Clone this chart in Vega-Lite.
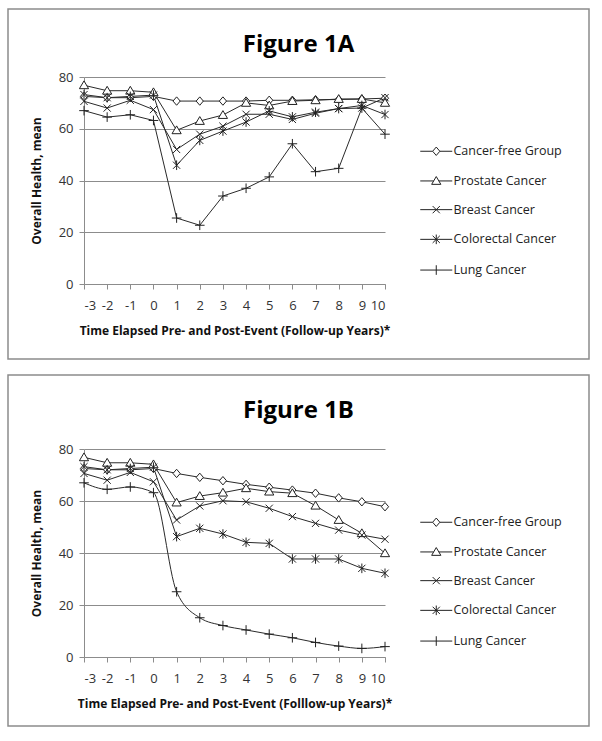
{
  "$schema": "https://vega.github.io/schema/vega-lite/v6.json",
  "padding": {"left": 7, "top": 8, "right": 0, "bottom": 0},
  "spacing": 14,
  "resolve": {"scale": {"shape": "independent"}, "legend": {"shape": "independent"}},
  "config": {
    "font": "Open Sans",
    "view": {"stroke": "#8c8c8c", "strokeWidth": 1.5},
    "axis": {
      "labelFont": "Open Sans", "labelFontSize": 13, "labelColor": "#333",
      "titleFont": "Open Sans", "titleFontSize": 12, "titleFontWeight": "bold", "titleColor": "#111",
      "domainColor": "#8c8c8c", "tickColor": "#8c8c8c", "gridColor": "#8c8c8c", "gridOpacity": 1,
      "tickSize": 5, "labelPadding": 6, "titlePadding": 10
    },
    "axisX": {"grid": false, "labelAngle": 0, "labelPadding": 10, "titlePadding": 13, "labelExpr": "datum.value + ''"},
    "axisY": {"grid": true, "titlePadding": 15},
    "legend": {
      "orient": "none", "labelFont": "Open Sans", "labelFontSize": 12.5, "labelColor": "#222",
      "symbolSize": 64, "symbolStrokeWidth": 1, "symbolStrokeColor": "#222", "symbolOpacity": 1,
      "rowPadding": 15.7, "labelOffset": 11, "title": null
    },
    "title": {"font": "Open Sans", "fontSize": 24, "fontWeight": "bold", "color": "#000", "anchor": "middle", "frame": "group"}
  },
  "datasets": {
    "a": [
      {"series": "Cancer-free Group", "year": -3, "value": 72.5},
      {"series": "Cancer-free Group", "year": -2, "value": 72},
      {"series": "Cancer-free Group", "year": -1, "value": 72},
      {"series": "Cancer-free Group", "year": 0, "value": 72.5},
      {"series": "Cancer-free Group", "year": 1, "value": 70.7},
      {"series": "Cancer-free Group", "year": 2, "value": 70.7},
      {"series": "Cancer-free Group", "year": 3, "value": 70.7},
      {"series": "Cancer-free Group", "year": 4, "value": 70.7},
      {"series": "Cancer-free Group", "year": 5, "value": 71},
      {"series": "Cancer-free Group", "year": 6, "value": 71},
      {"series": "Cancer-free Group", "year": 7, "value": 71.2},
      {"series": "Cancer-free Group", "year": 8, "value": 71.3},
      {"series": "Cancer-free Group", "year": 9, "value": 71.5},
      {"series": "Cancer-free Group", "year": 10, "value": 71.8},
      {"series": "Prostate Cancer", "year": -3, "value": 76.8},
      {"series": "Prostate Cancer", "year": -2, "value": 74.7},
      {"series": "Prostate Cancer", "year": -1, "value": 74.7},
      {"series": "Prostate Cancer", "year": 0, "value": 74.1},
      {"series": "Prostate Cancer", "year": 1, "value": 59.4},
      {"series": "Prostate Cancer", "year": 2, "value": 63},
      {"series": "Prostate Cancer", "year": 3, "value": 65.3},
      {"series": "Prostate Cancer", "year": 4, "value": 70},
      {"series": "Prostate Cancer", "year": 5, "value": 69},
      {"series": "Prostate Cancer", "year": 6, "value": 70.7},
      {"series": "Prostate Cancer", "year": 7, "value": 71},
      {"series": "Prostate Cancer", "year": 8, "value": 71.5},
      {"series": "Prostate Cancer", "year": 9, "value": 71.5},
      {"series": "Prostate Cancer", "year": 10, "value": 70},
      {"series": "Breast Cancer", "year": -3, "value": 70.6},
      {"series": "Breast Cancer", "year": -2, "value": 68},
      {"series": "Breast Cancer", "year": -1, "value": 71},
      {"series": "Breast Cancer", "year": 0, "value": 67.4},
      {"series": "Breast Cancer", "year": 1, "value": 52},
      {"series": "Breast Cancer", "year": 2, "value": 57.9},
      {"series": "Breast Cancer", "year": 3, "value": 61},
      {"series": "Breast Cancer", "year": 4, "value": 65.6},
      {"series": "Breast Cancer", "year": 5, "value": 65.6},
      {"series": "Breast Cancer", "year": 6, "value": 63.6},
      {"series": "Breast Cancer", "year": 7, "value": 66},
      {"series": "Breast Cancer", "year": 8, "value": 67.8},
      {"series": "Breast Cancer", "year": 9, "value": 68},
      {"series": "Breast Cancer", "year": 10, "value": 72},
      {"series": "Colorectal Cancer", "year": -3, "value": 73.2},
      {"series": "Colorectal Cancer", "year": -2, "value": 72},
      {"series": "Colorectal Cancer", "year": -1, "value": 72.5},
      {"series": "Colorectal Cancer", "year": 0, "value": 73},
      {"series": "Colorectal Cancer", "year": 1, "value": 45.9},
      {"series": "Colorectal Cancer", "year": 2, "value": 55.5},
      {"series": "Colorectal Cancer", "year": 3, "value": 59.1},
      {"series": "Colorectal Cancer", "year": 4, "value": 62.6},
      {"series": "Colorectal Cancer", "year": 5, "value": 66.9},
      {"series": "Colorectal Cancer", "year": 6, "value": 64.6},
      {"series": "Colorectal Cancer", "year": 7, "value": 66.4},
      {"series": "Colorectal Cancer", "year": 8, "value": 67.8},
      {"series": "Colorectal Cancer", "year": 9, "value": 69},
      {"series": "Colorectal Cancer", "year": 10, "value": 65.5},
      {"series": "Lung Cancer", "year": -3, "value": 67},
      {"series": "Lung Cancer", "year": -2, "value": 64.5},
      {"series": "Lung Cancer", "year": -1, "value": 65.4},
      {"series": "Lung Cancer", "year": 0, "value": 63.2},
      {"series": "Lung Cancer", "year": 1, "value": 25.5},
      {"series": "Lung Cancer", "year": 2, "value": 22.7},
      {"series": "Lung Cancer", "year": 3, "value": 34},
      {"series": "Lung Cancer", "year": 4, "value": 37},
      {"series": "Lung Cancer", "year": 5, "value": 41.4},
      {"series": "Lung Cancer", "year": 6, "value": 54.2},
      {"series": "Lung Cancer", "year": 7, "value": 43.4},
      {"series": "Lung Cancer", "year": 8, "value": 44.7},
      {"series": "Lung Cancer", "year": 9, "value": 68},
      {"series": "Lung Cancer", "year": 10, "value": 57.9}
    ],
    "b": [
      {"series": "Cancer-free Group", "year": -3, "value": 72.5},
      {"series": "Cancer-free Group", "year": -2, "value": 72},
      {"series": "Cancer-free Group", "year": -1, "value": 72},
      {"series": "Cancer-free Group", "year": 0, "value": 72.5},
      {"series": "Cancer-free Group", "year": 1, "value": 70.6},
      {"series": "Cancer-free Group", "year": 2, "value": 69.1},
      {"series": "Cancer-free Group", "year": 3, "value": 67.8},
      {"series": "Cancer-free Group", "year": 4, "value": 66.4},
      {"series": "Cancer-free Group", "year": 5, "value": 65.3},
      {"series": "Cancer-free Group", "year": 6, "value": 64.2},
      {"series": "Cancer-free Group", "year": 7, "value": 63},
      {"series": "Cancer-free Group", "year": 8, "value": 61.2},
      {"series": "Cancer-free Group", "year": 9, "value": 59.7},
      {"series": "Cancer-free Group", "year": 10, "value": 57.8},
      {"series": "Prostate Cancer", "year": -3, "value": 76.8},
      {"series": "Prostate Cancer", "year": -2, "value": 74.7},
      {"series": "Prostate Cancer", "year": -1, "value": 74.7},
      {"series": "Prostate Cancer", "year": 0, "value": 74.1},
      {"series": "Prostate Cancer", "year": 1, "value": 59.4},
      {"series": "Prostate Cancer", "year": 2, "value": 61.9},
      {"series": "Prostate Cancer", "year": 3, "value": 63.2},
      {"series": "Prostate Cancer", "year": 4, "value": 64.9},
      {"series": "Prostate Cancer", "year": 5, "value": 63.6},
      {"series": "Prostate Cancer", "year": 6, "value": 63},
      {"series": "Prostate Cancer", "year": 7, "value": 58.2},
      {"series": "Prostate Cancer", "year": 8, "value": 52.7},
      {"series": "Prostate Cancer", "year": 9, "value": 47.6},
      {"series": "Prostate Cancer", "year": 10, "value": 39.9},
      {"series": "Breast Cancer", "year": -3, "value": 70.6},
      {"series": "Breast Cancer", "year": -2, "value": 68},
      {"series": "Breast Cancer", "year": -1, "value": 71},
      {"series": "Breast Cancer", "year": 0, "value": 67.4},
      {"series": "Breast Cancer", "year": 1, "value": 52.7},
      {"series": "Breast Cancer", "year": 2, "value": 58.1},
      {"series": "Breast Cancer", "year": 3, "value": 60.1},
      {"series": "Breast Cancer", "year": 4, "value": 59.7},
      {"series": "Breast Cancer", "year": 5, "value": 57.2},
      {"series": "Breast Cancer", "year": 6, "value": 54},
      {"series": "Breast Cancer", "year": 7, "value": 51.4},
      {"series": "Breast Cancer", "year": 8, "value": 48.8},
      {"series": "Breast Cancer", "year": 9, "value": 46.9},
      {"series": "Breast Cancer", "year": 10, "value": 45.3},
      {"series": "Colorectal Cancer", "year": -3, "value": 73.2},
      {"series": "Colorectal Cancer", "year": -2, "value": 72},
      {"series": "Colorectal Cancer", "year": -1, "value": 72.5},
      {"series": "Colorectal Cancer", "year": 0, "value": 73},
      {"series": "Colorectal Cancer", "year": 1, "value": 46.3},
      {"series": "Colorectal Cancer", "year": 2, "value": 49.5},
      {"series": "Colorectal Cancer", "year": 3, "value": 47.3},
      {"series": "Colorectal Cancer", "year": 4, "value": 44.1},
      {"series": "Colorectal Cancer", "year": 5, "value": 43.7},
      {"series": "Colorectal Cancer", "year": 6, "value": 37.7},
      {"series": "Colorectal Cancer", "year": 7, "value": 37.7},
      {"series": "Colorectal Cancer", "year": 8, "value": 37.7},
      {"series": "Colorectal Cancer", "year": 9, "value": 34.1},
      {"series": "Colorectal Cancer", "year": 10, "value": 32.2},
      {"series": "Lung Cancer", "year": -3, "value": 67},
      {"series": "Lung Cancer", "year": -2, "value": 64.5},
      {"series": "Lung Cancer", "year": -1, "value": 65.4},
      {"series": "Lung Cancer", "year": 0, "value": 63.2},
      {"series": "Lung Cancer", "year": 1, "value": 25.1},
      {"series": "Lung Cancer", "year": 2, "value": 15.1},
      {"series": "Lung Cancer", "year": 3, "value": 12.1},
      {"series": "Lung Cancer", "year": 4, "value": 10.4},
      {"series": "Lung Cancer", "year": 5, "value": 8.8},
      {"series": "Lung Cancer", "year": 6, "value": 7.4},
      {"series": "Lung Cancer", "year": 7, "value": 5.6},
      {"series": "Lung Cancer", "year": 8, "value": 4.2},
      {"series": "Lung Cancer", "year": 9, "value": 3.3},
      {"series": "Lung Cancer", "year": 10, "value": 4}
    ]
  },
  "vconcat": [
    {
      "width": 581, "height": 350,
      "title": {"text": "Figure 1A", "offset": -67, "baseline": "alphabetic"},
      "data": {"name": "a"},
      "resolve": {"scale": {"shape": "independent"}, "legend": {"shape": "independent"}},
      "encoding": {
        "x": {"field": "year", "type": "quantitative",
          "scale": {"domain": [-3, 10], "range": [76, 377], "nice": false, "zero": false},
          "axis": {"values": [-3, -2, -1, 0, 1, 2, 3, 4, 5, 6, 7, 8, 9, 10], "offset": -75,
            "title": "Time Elapsed Pre- and Post-Event (Follow-up Years)*"}},
        "y": {"field": "value", "type": "quantitative",
          "scale": {"domain": [0, 80], "range": [275, 68], "nice": false, "zero": false},
          "axis": {"values": [0, 20, 40, 60, 80], "offset": -76, "title": "Overall Health, mean"}}
      },
      "layer": [
        {"mark": {"type": "line", "color": "#2a2a2a", "strokeWidth": 1},
         "encoding": {"detail": {"field": "series"}}},
        {"mark": {"type": "point", "size": 64, "filled": true, "fill": "white", "stroke": "#222", "strokeWidth": 1, "opacity": 1},
         "encoding": {"shape": {"field": "series", "type": "nominal",
           "scale": {"domain": ["Cancer-free Group", "Prostate Cancer", "Breast Cancer", "Colorectal Cancer", "Lung Cancer"],
             "range": ["M0,-1.05L0.9,0L0,1.05L-0.9,0Z", "M0,-1.1L1.15,0.85L-1.15,0.85Z", "M-0.9,-0.9L0.9,0.9M-0.9,0.9L0.9,-0.9", "M-0.9,-0.9L0.9,0.9M-0.9,0.9L0.9,-0.9M0,-1.2L0,1.2", "M-1.2,0L1.2,0M0,-1.2L0,1.2"]},
           "legend": null}}},
        {"mark": {"type": "point", "size": 64, "filled": false, "color": "#222", "strokeWidth": 1, "opacity": 0},
         "encoding": {"shape": {"field": "series", "type": "nominal",
           "scale": {"domain": ["Cancer-free Group", "Prostate Cancer", "Breast Cancer", "Colorectal Cancer", "Lung Cancer"],
             "range": ["M-4,0L-0.9,0M0.9,0L4,0M0,-1.05L0.9,0L0,1.05L-0.9,0Z", "M-4,0L-0.65,0M0.65,0L4,0M0,-1.1L1.15,0.85L-1.15,0.85Z", "M-4,0L4,0M-0.9,-0.9L0.9,0.9M-0.9,0.9L0.9,-0.9", "M-4,0L4,0M-0.9,-0.9L0.9,0.9M-0.9,0.9L0.9,-0.9M0,-1.2L0,1.2", "M-4,0L4,0M0,-1.2L0,1.2"]},
           "legend": {"legendX": 422, "legendY": 136}}}}
      ]
    },
    {
      "width": 581, "height": 351,
      "title": {"text": "Figure 1B", "offset": -67, "baseline": "alphabetic"},
      "data": {"name": "b"},
      "resolve": {"scale": {"shape": "independent"}, "legend": {"shape": "independent"}},
      "encoding": {
        "x": {"field": "year", "type": "quantitative",
          "scale": {"domain": [-3, 10], "range": [76, 377], "nice": false, "zero": false},
          "axis": {"values": [-3, -2, -1, 0, 1, 2, 3, 4, 5, 6, 7, 8, 9, 10], "offset": -69,
            "title": "Time Elapsed Pre- and Post-Event (Folllow-up Years)*"}},
        "y": {"field": "value", "type": "quantitative",
          "scale": {"domain": [0, 80], "range": [282, 74], "nice": false, "zero": false},
          "axis": {"values": [0, 20, 40, 60, 80], "offset": -76, "title": "Overall Health, mean"}}
      },
      "layer": [
        {"transform": [{"filter": "datum.series !== 'Lung Cancer'"}],
         "mark": {"type": "line", "color": "#2a2a2a", "strokeWidth": 1},
         "encoding": {"detail": {"field": "series"}}},
        {"transform": [{"filter": "datum.series === 'Lung Cancer'"}],
         "mark": {"type": "line", "color": "#2a2a2a", "strokeWidth": 1, "interpolate": "monotone"},
         "encoding": {"detail": {"field": "series"}}},
        {"mark": {"type": "point", "size": 64, "filled": true, "fill": "white", "stroke": "#222", "strokeWidth": 1, "opacity": 1},
         "encoding": {"shape": {"field": "series", "type": "nominal",
           "scale": {"domain": ["Cancer-free Group", "Prostate Cancer", "Breast Cancer", "Colorectal Cancer", "Lung Cancer"],
             "range": ["M0,-1.05L0.9,0L0,1.05L-0.9,0Z", "M0,-1.1L1.15,0.85L-1.15,0.85Z", "M-0.9,-0.9L0.9,0.9M-0.9,0.9L0.9,-0.9", "M-0.9,-0.9L0.9,0.9M-0.9,0.9L0.9,-0.9M0,-1.2L0,1.2", "M-1.2,0L1.2,0M0,-1.2L0,1.2"]},
           "legend": null}}},
        {"mark": {"type": "point", "size": 64, "filled": false, "color": "#222", "strokeWidth": 1, "opacity": 0},
         "encoding": {"shape": {"field": "series", "type": "nominal",
           "scale": {"domain": ["Cancer-free Group", "Prostate Cancer", "Breast Cancer", "Colorectal Cancer", "Lung Cancer"],
             "range": ["M-4,0L-0.9,0M0.9,0L4,0M0,-1.05L0.9,0L0,1.05L-0.9,0Z", "M-4,0L-0.65,0M0.65,0L4,0M0,-1.1L1.15,0.85L-1.15,0.85Z", "M-4,0L4,0M-0.9,-0.9L0.9,0.9M-0.9,0.9L0.9,-0.9", "M-4,0L4,0M-0.9,-0.9L0.9,0.9M-0.9,0.9L0.9,-0.9M0,-1.2L0,1.2", "M-4,0L4,0M0,-1.2L0,1.2"]},
           "legend": {"legendX": 422, "legendY": 141}}}}
      ]
    }
  ]
}
